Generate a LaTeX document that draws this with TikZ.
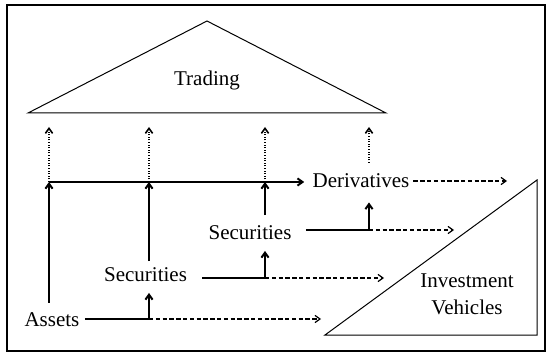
\documentclass[tikz,border=0pt]{standalone}
\usepackage{fontspec}
\setmainfont{Liberation Serif}
\usetikzlibrary{arrows.meta}

\tikzset{
  lbl/.style={font=\fontsize{10.5}{13.5}\selectfont, inner sep=0pt},
  link/.style={line width=1pt},
  flow/.style={line width=1pt, -{Straight Barb[length=2.5pt,width=3.6pt]}},
  spin/.style={line width=0.6pt, dash pattern=on 2.2pt off 1.2pt, -{Straight Barb[length=2.5pt,width=3.6pt]}},
  trade/.style={line width=0.8pt, dash pattern=on 0.5pt off 0.8pt, -{Straight Barb[length=2.5pt,width=3.6pt]}},
  roof/.style={line width=0.5pt}
}

\begin{document}
\begin{tikzpicture}[x=0.5pt,y=-0.5pt]
\useasboundingbox (0,0) rectangle (547,353);
\draw[line width=1pt] (7,5) rectangle (545,351);

% trading roof and vehicles wedge
\draw[roof] (28,113) -- (207,21) -- (386,113) -- cycle;
\node[lbl] (trading) at (207,80) {Trading};
\draw[roof] (325,335) -- (537,180) -- (537,335) -- cycle;
\node[lbl, align=center] (vehicles) at (467,294) {Investment\\Vehicles};

% labels
\node[lbl] (assets) at (52,320) {Assets};
\node[lbl] (secA) at (145.5,274.5) {Securities};
\node[lbl] (secB) at (250,232.5) {Securities};
\node[lbl] (deriv) at (361,181) {Derivatives};

% junctions
\coordinate (jA) at (149,319);
\coordinate (jB) at (265,278);
\coordinate (jC) at (369,230);
\coordinate (hA) at (49,182);
\coordinate (hB) at (149,182);
\coordinate (hC) at (265,182);
\coordinate (dD) at (369,163);

% securitisation steps
\draw[link] ([xshift=2.5pt]assets.east |- jA) -- (jA);
\draw[spin] (jA) -- (321,319);
\draw[flow] (jA) -- ([yshift=-5.5pt]jA |- secA.south);
\draw[link] ([xshift=7.5pt]secA.east |- jB) -- (jB);
\draw[spin] (jB) -- (384,278);
\draw[flow] (jB) -- ([yshift=-5.5pt]jB |- secB.south);
\draw[link] ([xshift=7pt]secB.east |- jC) -- (jC);
\draw[spin] (jC) -- (454,230);
\draw[flow] (jC) -- ([yshift=-7pt]jC |- deriv.south);
\draw[spin] ([xshift=1.8pt]deriv.east) -- (507,181);

% to derivatives
\draw[flow] ([yshift=5pt]hA |- assets.north) -- (hA);
\draw[flow] ([yshift=3pt]hB |- secA.north) -- (hB);
\draw[flow] ([yshift=5pt]hC |- secB.north) -- (hC);
\draw[flow] (hA) -- ([xshift=-4pt]deriv.west |- hA);

% to trading
\draw[trade] (hA) -- (49,127);
\draw[trade] (hB) -- (149,127);
\draw[trade] (hC) -- (265,127);
\draw[trade] (dD) -- (369,127);
\end{tikzpicture}
\end{document}
